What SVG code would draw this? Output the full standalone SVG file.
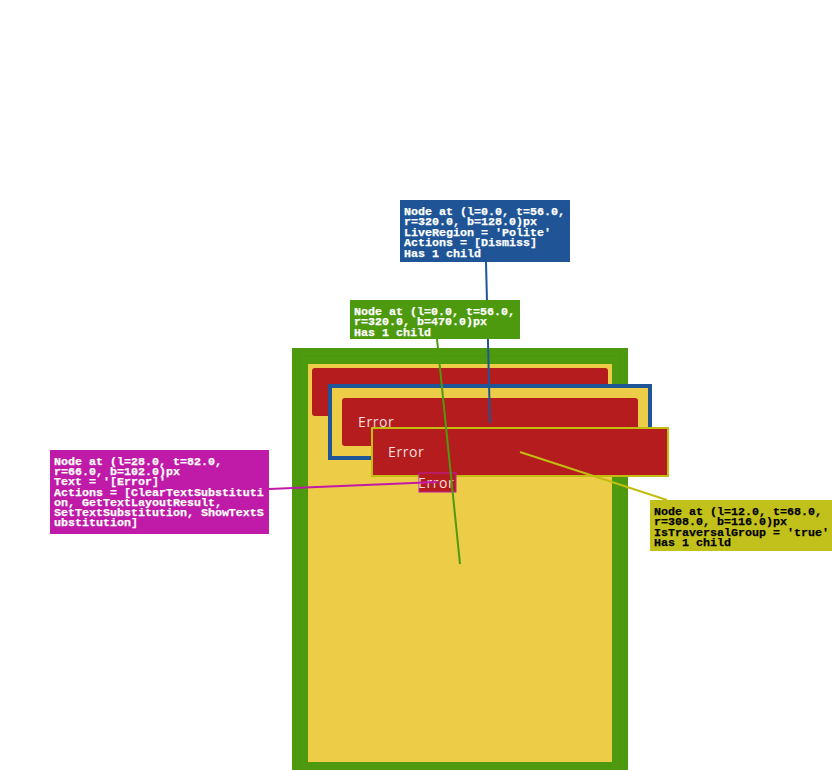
<svg xmlns="http://www.w3.org/2000/svg" width="832" height="770" viewBox="0 0 832 770">
<style>
.lbl{font-family:"Liberation Mono","DejaVu Sans Mono",monospace;font-weight:bold;font-size:11.67px;fill:#ffffff;stroke:#ffffff;stroke-width:0.25px}
.lbl.dark{fill:#000000;stroke:#000000}
.err{font-family:"Open Sans","Noto Sans",sans-serif;font-size:14px;fill:#f6dede;letter-spacing:0.6px}
.red{fill:#b41c1e}
.conn{fill:none;stroke-width:2}
</style>
<rect width="832" height="770" fill="#ffffff"/>
<g id="root">
  <rect x="292" y="348" width="336" height="430" fill="#4e9a0f"/>
  <rect x="300" y="356" width="320" height="414" fill="none" stroke="#4a9410" stroke-width="1"/>
  <rect x="308" y="364" width="304" height="398" fill="#edcd48"/>
</g>
<g id="bg-red">
  <rect x="312" y="368" width="296" height="48" rx="3" class="red"/>
</g>
<g id="live-region">
  <rect x="330" y="386" width="320" height="72" fill="#edcd48" stroke="#1f5597" stroke-width="4"/>
  <rect x="342" y="398" width="296" height="48" rx="3" class="red"/>
  <text x="358" y="427" class="err">Error</text>
</g>
<g id="traversal-group">
  <rect x="372" y="428" width="296" height="48" class="red" stroke="#c2bd10" stroke-width="2"/>
  <text x="388" y="457" class="err">Error</text>
</g>
<g id="text-node">
  <rect x="419" y="473" width="37" height="19" class="red" stroke="#c01aa8" stroke-width="1"/>
  <text x="418" y="488" class="err">Error</text>
</g>
<g id="connectors">
  <line x1="486" y1="262" x2="490" y2="423" class="conn" stroke="#1f5597"/>
  <line x1="437" y1="339" x2="460" y2="564" class="conn" stroke="#4e9a0f"/>
  <line x1="269" y1="489" x2="437" y2="482" class="conn" stroke="#c01aa8"/>
  <line x1="520" y1="452" x2="667" y2="500" class="conn" stroke="#c2bd10"/>
</g>
<g id="label-live">
  <rect x="400" y="200" width="170" height="62" fill="#1f5597"/>
  <text class="lbl"><tspan x="404" y="215">Node at (l=0.0, t=56.0,</tspan><tspan x="404" y="225.4">r=320.0, b=128.0)px</tspan><tspan x="404" y="235.8">LiveRegion = 'Polite'</tspan><tspan x="404" y="246.2">Actions = [Dismiss]</tspan><tspan x="404" y="256.6">Has 1 child</tspan></text>
</g>
<g id="label-root">
  <rect x="350" y="300" width="170" height="39" fill="#4e9a0f"/>
  <text class="lbl"><tspan x="354" y="315">Node at (l=0.0, t=56.0,</tspan><tspan x="354" y="325.4">r=320.0, b=470.0)px</tspan><tspan x="354" y="335.8">Has 1 child</tspan></text>
</g>
<g id="label-text">
  <rect x="50" y="450" width="219" height="84" fill="#c01aa8"/>
  <text class="lbl"><tspan x="54" y="465">Node at (l=28.0, t=82.0,</tspan><tspan x="54" y="475.2">r=66.0, b=102.0)px</tspan><tspan x="54" y="485.4">Text = '[Error]'</tspan><tspan x="54" y="495.6">Actions = [ClearTextSubstituti</tspan><tspan x="54" y="505.8">on, GetTextLayoutResult,</tspan><tspan x="54" y="516">SetTextSubstitution, ShowTextS</tspan><tspan x="54" y="526.2">ubstitution]</tspan></text>
</g>
<g id="label-traversal">
  <rect x="650" y="500" width="182" height="51" fill="#c2c01a"/>
  <text class="lbl dark"><tspan x="654" y="515">Node at (l=12.0, t=68.0,</tspan><tspan x="654" y="525.4">r=308.0, b=116.0)px</tspan><tspan x="654" y="535.8">IsTraversalGroup = 'true'</tspan><tspan x="654" y="546.2">Has 1 child</tspan></text>
</g>
</svg>
